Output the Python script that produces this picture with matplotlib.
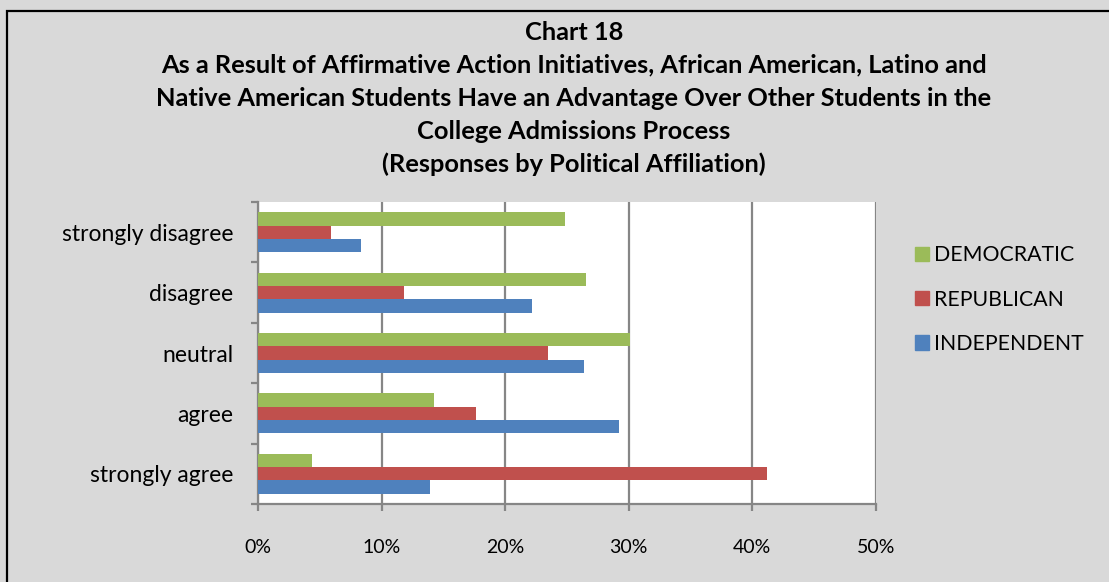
import matplotlib
matplotlib.use("Agg")
import matplotlib.pyplot as plt
from matplotlib.patches import Patch, Rectangle
from matplotlib.ticker import FuncFormatter, FixedLocator
import numpy as np

plt.rcParams['font.family'] = ['Lato', 'DejaVu Sans']

# === Data (bottom to top, as Excel draws it) ===
categories = ["strongly agree", "agree", "neutral", "disagree", "strongly disagree"]
independent = [13.9, 29.2, 26.4, 22.2, 8.3]
republican = [41.2, 17.6, 23.5, 11.8, 5.9]
democratic = [4.4, 14.2, 30.1, 26.5, 24.8]
x_ticks = [0, 10, 20, 30, 40, 50]

title = ("Chart 18\n"
         "As a Result of Affirmative Action Initiatives, African American, Latino and\n"
         "Native American Students Have an Advantage Over Other Students in the\n"
         "College Admissions Process\n"
         "(Responses by Political Affiliation)")

c_ind = "#4F81BD"
c_rep = "#C0504D"
c_dem = "#9BBB59"
bg = "#D9D9D9"
grid_c = "#868686"

W, H = 1109, 582
fig = plt.figure(figsize=(W / 100, H / 100), dpi=100)
fig.patch.set_facecolor(bg)

# black frame (only left/top visible in the original crop)
fig.patches.append(Rectangle((7 / W, -0.1), 1.2, (H - 11) / H + 0.1, transform=fig.transFigure,
                             fill=False, edgecolor="black", linewidth=1.6))

ax = fig.add_axes([258 / W, 78 / H, 618 / W, 302 / H])
ax.set_facecolor("white")

y = np.arange(len(categories))
h = 0.22
ax.barh(y - h, independent, height=h, color=c_ind, zorder=3)
ax.barh(y, republican, height=h, color=c_rep, zorder=3)
ax.barh(y + h, democratic, height=h, color=c_dem, zorder=3)

ax.set_xlim(0, 50)
ax.set_ylim(-0.5, len(categories) - 0.5)
ax.set_xticks(x_ticks)
ax.xaxis.set_major_formatter(FuncFormatter(lambda v, p: f"{v:.0f}%"))
ax.grid(axis="x", color=grid_c, linewidth=1.6, zorder=1)

# category labels at centers, tick marks at boundaries
ax.set_yticks(y)
ax.set_yticklabels(categories)
ax.yaxis.set_minor_locator(FixedLocator(np.arange(-0.5, len(categories), 1.0)))
ax.tick_params(axis="y", which="major", length=0, pad=18, labelsize=16.5)
ax.tick_params(axis="y", which="minor", length=5, width=1.6, color=grid_c)
ax.tick_params(axis="x", length=5, width=1.6, color=grid_c, pad=20, labelsize=14)

for s in ["top", "right"]:
    ax.spines[s].set_visible(False)
for s in ["left", "bottom"]:
    ax.spines[s].set_color(grid_c)
    ax.spines[s].set_linewidth(1.6)

fig.text(574 / W, 1 - 21 / H, title, ha="center", va="top", fontsize=18.3,
         fontweight="bold", linespacing=1.52)

handles = [Patch(color=c_dem), Patch(color=c_rep), Patch(color=c_ind)]
fig.legend(handles, ["DEMOCRATIC", "REPUBLICAN", "INDEPENDENT"],
           loc="upper left", bbox_to_anchor=(896 / W, 1 - 226 / H), frameon=False,
           fontsize=15.3, handlelength=0.65, handleheight=0.65, handletextpad=0.25,
           labelspacing=1.15)

fig.savefig("out.png", dpi=100, facecolor=bg)
